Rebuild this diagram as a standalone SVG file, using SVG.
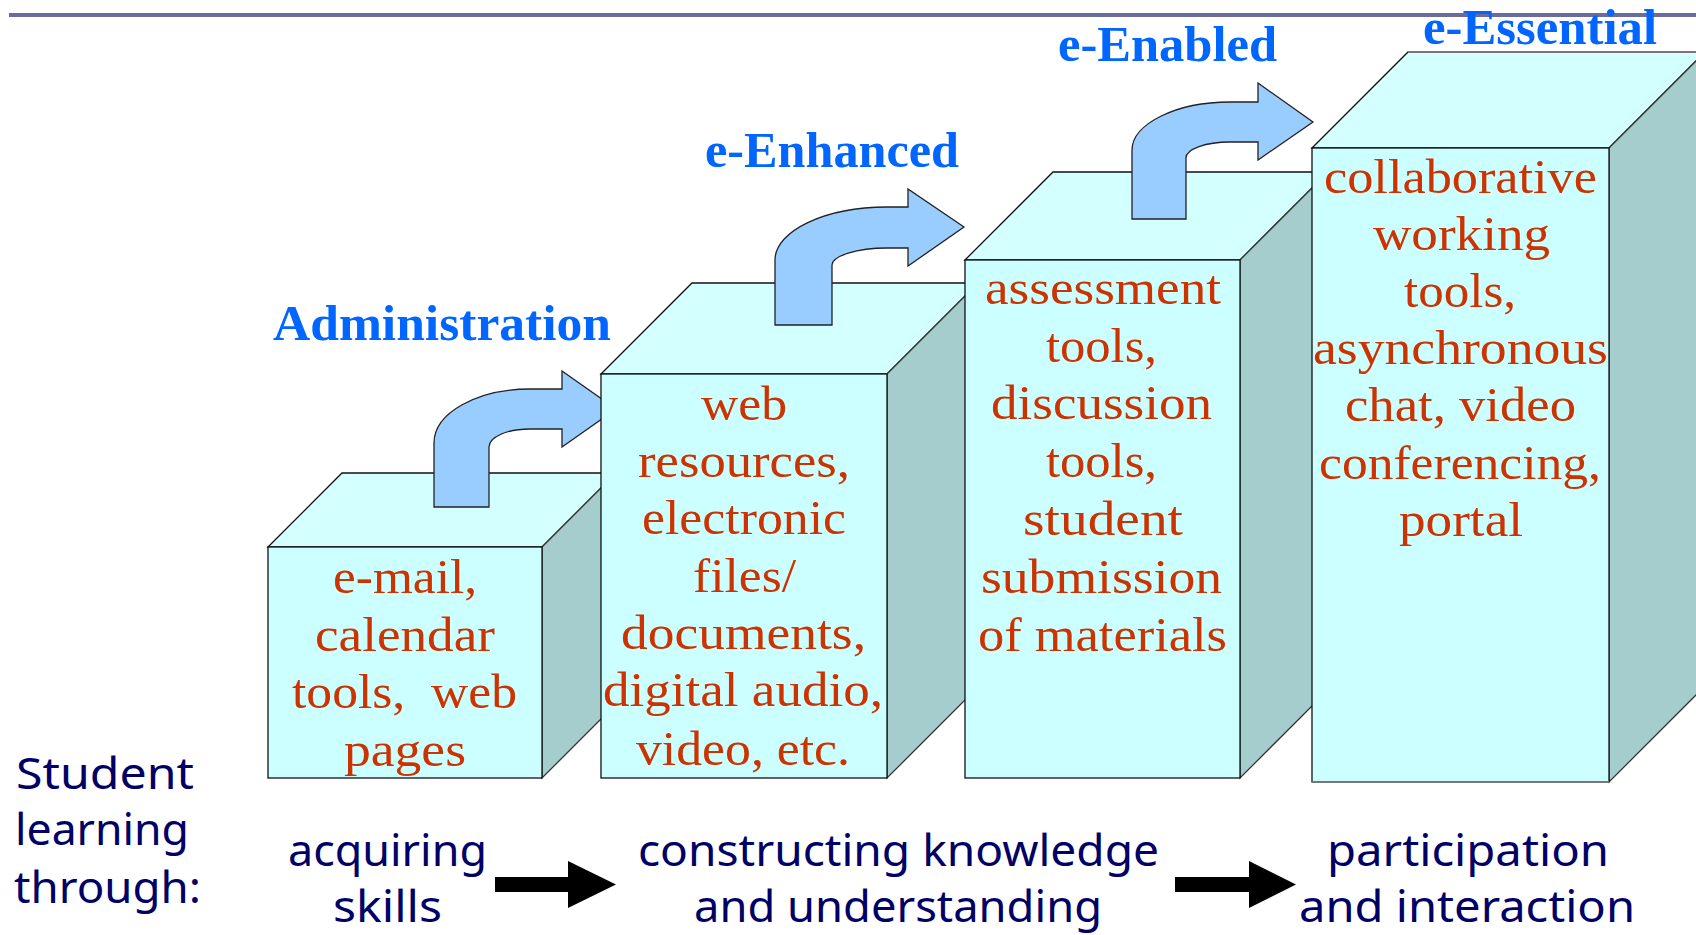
<svg xmlns="http://www.w3.org/2000/svg" width="1696" height="935" viewBox="0 0 1696 935">
<style>
.front{fill:#CCFFFF;stroke:#111;stroke-width:1.3}
.top{fill:#D4FFFF;stroke:#111;stroke-width:1.3}
.side{fill:#A6CDCD;stroke:#333;stroke-width:1.3}
.back{fill:none;stroke:#777;stroke-width:2}
.curv{fill:#99CCFF;stroke:#222;stroke-width:1.3}
.blk{fill:#000}
.lbl{font-family:"Liberation Serif",serif;font-weight:bold;font-size:50px;fill:#0066FF}
.bt{font-family:"Liberation Serif",serif;font-size:49px;fill:#CC3300}
.st{font-family:"Noto Sans",sans-serif;font-size:44px;fill:#000066}
</style>
<rect x="9" y="13" width="1687" height="4" fill="#6B6B9E"/>

<g id="box1">
<polygon class="top" points="268,547 342,473 616,473 542,547"/>
<polygon class="side" points="542,547 616,473 616,704 542,778"/>
<rect class="front" x="268" y="547" width="274" height="231"/>
<g class="bt">
<text x="333" y="593" textLength="144" lengthAdjust="spacingAndGlyphs">e-mail,</text>
<text x="315" y="651" textLength="180" lengthAdjust="spacingAndGlyphs">calendar</text>
<text x="292" y="708" textLength="225" lengthAdjust="spacingAndGlyphs" xml:space="preserve">tools,  web</text>
<text x="344" y="766" textLength="122" lengthAdjust="spacingAndGlyphs">pages</text>
</g>
</g>

<g id="label-administration"><text class="lbl" x="273" y="340" textLength="338" lengthAdjust="spacingAndGlyphs">Administration</text></g>

<g id="connectors">
<path id="curve1" class="curv" d="M434,507 L434,443 C434,413 477,389 530,389 L562,389 L562,371 L616,409 L562,447 L562,429 L530,429 C507,429 489,437 489,447 L489,507 Z"/>
</g>

<g id="box2">
<polygon class="top" points="601,374 692,283 978,283 887,374"/>
<polygon class="side" points="887,374 978,283 978,687 887,778"/>
<rect class="front" x="601" y="374" width="286" height="404"/>
<g class="bt">
<text x="701" y="420" textLength="86" lengthAdjust="spacingAndGlyphs">web</text>
<text x="638" y="477" textLength="212" lengthAdjust="spacingAndGlyphs">resources,</text>
<text x="642" y="534" textLength="204" lengthAdjust="spacingAndGlyphs">electronic</text>
<text x="693" y="592" textLength="103" lengthAdjust="spacingAndGlyphs">files/</text>
<text x="621" y="649" textLength="245" lengthAdjust="spacingAndGlyphs">documents,</text>
<text x="603" y="706" textLength="280" lengthAdjust="spacingAndGlyphs">digital audio,</text>
<text x="636" y="765" textLength="214" lengthAdjust="spacingAndGlyphs">video, etc.</text>
</g>
</g>

<g id="label-enhanced"><text class="lbl" x="705" y="167" textLength="254" lengthAdjust="spacingAndGlyphs">e-Enhanced</text></g>

<g id="connectors2">
<path id="curve2" class="curv" d="M775,325 L775,260 C775,231 825,207 887,207 L908,207 L908,189 L964,227 L908,266 L908,248 L887,248 C857,248 832,256 832,265 L832,325 Z"/>
</g>

<g id="box3">
<polygon class="top" points="965,260 1053,172 1328,172 1240,260"/>
<polygon class="side" points="1240,260 1328,172 1328,690 1240,778"/>
<rect class="front" x="965" y="260" width="275" height="518"/>
<g class="bt">
<text x="985" y="304" textLength="236" lengthAdjust="spacingAndGlyphs">assessment</text>
<text x="1046" y="362" textLength="111" lengthAdjust="spacingAndGlyphs">tools,</text>
<text x="991" y="419" textLength="221" lengthAdjust="spacingAndGlyphs">discussion</text>
<text x="1046" y="477" textLength="111" lengthAdjust="spacingAndGlyphs">tools,</text>
<text x="1023" y="535" textLength="160" lengthAdjust="spacingAndGlyphs">student</text>
<text x="981" y="593" textLength="241" lengthAdjust="spacingAndGlyphs">submission</text>
<text x="978" y="651" textLength="249" lengthAdjust="spacingAndGlyphs">of materials</text>
</g>
</g>

<g id="label-enabled"><text class="lbl" x="1058" y="61" textLength="219" lengthAdjust="spacingAndGlyphs">e-Enabled</text></g>

<g id="connectors3">
<path id="curve3" class="curv" d="M1132,219 L1132,150 C1132,124 1176,102 1230,102 L1258,102 L1258,83 L1313,122 L1258,160 L1258,142 L1230,142 C1206,142 1186,149 1186,158 L1186,219 Z"/>
</g>

<g id="box4">
<polygon class="top" points="1312,148 1408,52 1705,52 1609,148"/>
<polygon class="side" points="1609,148 1705,52 1705,686 1609,782"/>
<rect class="front" x="1312" y="148" width="297" height="634"/>
<line class="back" x1="1408" y1="52" x2="1696" y2="52"/>
<line class="back" x1="1312" y1="782" x2="1609" y2="782"/>
<g class="bt">
<text x="1324" y="193" textLength="273" lengthAdjust="spacingAndGlyphs">collaborative</text>
<text x="1373" y="250" textLength="177" lengthAdjust="spacingAndGlyphs">working</text>
<text x="1404" y="307" textLength="112" lengthAdjust="spacingAndGlyphs">tools,</text>
<text x="1313" y="364" textLength="295" lengthAdjust="spacingAndGlyphs">asynchronous</text>
<text x="1345" y="421" textLength="231" lengthAdjust="spacingAndGlyphs">chat, video</text>
<text x="1319" y="479" textLength="282" lengthAdjust="spacingAndGlyphs">conferencing,</text>
<text x="1399" y="536" textLength="124" lengthAdjust="spacingAndGlyphs">portal</text>
</g>
</g>

<g id="label-essential"><text class="lbl" x="1423" y="44" textLength="234" lengthAdjust="spacingAndGlyphs">e-Essential</text></g>

<g id="student-learning" class="st">
<text x="16" y="789" textLength="178" lengthAdjust="spacingAndGlyphs">Student</text>
<text x="15" y="845" textLength="174" lengthAdjust="spacingAndGlyphs">learning</text>
<text x="14" y="903" textLength="187" lengthAdjust="spacingAndGlyphs">through:</text>
</g>
<g id="stage-acquiring" class="st">
<text x="288" y="866" textLength="199" lengthAdjust="spacingAndGlyphs">acquiring</text>
<text x="333" y="922" textLength="109" lengthAdjust="spacingAndGlyphs">skills</text>
</g>
<g id="stage-constructing" class="st">
<text x="638" y="866" textLength="521" lengthAdjust="spacingAndGlyphs">constructing knowledge</text>
<text x="694" y="922" textLength="408" lengthAdjust="spacingAndGlyphs">and understanding</text>
</g>
<g id="stage-participation" class="st">
<text x="1327" y="866" textLength="282" lengthAdjust="spacingAndGlyphs">participation</text>
<text x="1299" y="922" textLength="336" lengthAdjust="spacingAndGlyphs">and interaction</text>
</g>

<g id="connectors-bottom">
<path class="blk" d="M495,877 L568,877 L568,861 L616,884.5 L568,908 L568,892 L495,892 Z"/>
<path class="blk" d="M1175,877 L1249,877 L1249,861 L1296,884.5 L1249,908 L1249,892 L1175,892 Z"/>
</g>
</svg>
